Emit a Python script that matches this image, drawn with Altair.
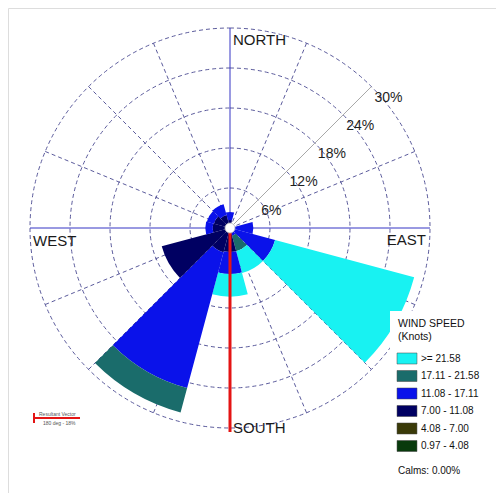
import math
import altair as alt
import pandas as pd

# ---------------- data ----------------
directions = [0, 30, 60, 90, 120, 150, 180, 210, 240, 270, 300, 330]
speed_labels = ["0.97 - 4.08", "4.08 - 7.00", "7.00 - 11.08",
                "11.08 - 17.11", "17.11 - 21.58", ">= 21.58"]
# frequency (%) of each speed class per direction
freq_097_408 = [0, 0, 0, 0, 0, 0, 0, 0, 0, 0, 0, 0]
freq_408_700 = [0, 0, 0, 0, 0, 0, 0, 0, 0, 0, 0, 0]
freq_700_1108 = [1.2, 0.3, 0.3, 0.5, 0.5, 0.5, 3.6, 3.75, 10.6, 2.6, 2.5, 2.0]
freq_1108_1711 = [1.2, 0.0, 0.0, 3.0, 6.5, 0.7, 3.3, 21.1, 0.0, 1.1, 1.1, 1.7]
freq_1711_2158 = [0, 0, 0, 0, 0, 2.4, 0, 3.8, 0, 0, 0, 0]
freq_ge_2158 = [0, 0, 0, 0, 21.6, 3.4, 3.4, 0, 0, 0, 0, 0]

legend_order = [">= 21.58", "17.11 - 21.58", "11.08 - 17.11",
                "7.00 - 11.08", "4.08 - 7.00", "0.97 - 4.08"]
legend_colors = ["#18f2f2", "#1a6c6b", "#0a12ea", "#000062", "#3a3a08", "#083a0c"]

ring_values = [6, 12, 18, 24, 30]
ring_labels = ["6%", "12%", "18%", "24%", "30%"]
grid_angles = [i * 22.5 for i in range(16)]
cardinal_names = ["NORTH", "EAST", "SOUTH", "WEST"]
cardinal_angles = [0, 90, 180, 270]
resultant_dir = [180]
resultant_len = [30.6]
calms_text = ["Calms: 0.00%"]

# ---------------- tables ----------------
class_freqs = [freq_097_408, freq_408_700, freq_700_1108,
               freq_1108_1711, freq_1711_2158, freq_ge_2158]
rows = []
for i, d in enumerate(directions):
    start = 0.0
    for lab, fr in zip(speed_labels, class_freqs):
        v = fr[i]
        if v > 0:
            rows.append(dict(dir=d, cls=lab, r0=start, r1=start + v,
                             t0=d - 15, t1=d + 15))
            start += v
petals = pd.DataFrame(rows)

rings = pd.DataFrame({"r": ring_values, "label": ring_labels})
grid = pd.DataFrame({"a": grid_angles})
grid["kind"] = ["cardinal" if a % 90 == 0 else ("label" if a == 45 else "minor")
                for a in grid_angles]
cards = pd.DataFrame({"name": cardinal_names, "a": cardinal_angles})
vec = pd.DataFrame({"a": resultant_dir, "len": resultant_len})

FONT = "Liberation Sans"
CX, CY = 222, 220
xs = alt.Scale(domain=[-30, 30], range=[CX - 200, CX + 200])
ys = alt.Scale(domain=[-30, 30], range=[CY + 200, CY - 200])
ts = alt.Scale(domain=[0, 360], range=[0, 2 * math.pi])
rs = alt.Scale(type="linear", domain=[0, 30], range=[0, 200])

# ---------------- grid ----------------
circles = alt.Chart(rings).mark_arc(
    fillOpacity=0, stroke="#5b5b9c", strokeWidth=1, strokeDash=[4, 3]
).encode(
    x=alt.value(CX), y=alt.value(CY),
    theta=alt.value(0), theta2=alt.value(6.2832),
    radius=alt.Radius("r:Q", scale=rs, stack=None),
)

radial_base = alt.Chart(grid).transform_calculate(
    x0="0", y0="0",
    x1="30*sin(datum.a*PI/180)", y1="30*cos(datum.a*PI/180)",
)
radial_enc = dict(
    x=alt.X("x0:Q", scale=xs, axis=None),
    y=alt.Y("y0:Q", scale=ys, axis=None),
    x2="x1:Q", y2="y1:Q",
)
minor_lines = radial_base.transform_filter("datum.kind == 'minor'").mark_rule(
    color="#5b5b9c", strokeWidth=1, strokeDash=[4, 3]).encode(**radial_enc)
label_line = radial_base.transform_filter("datum.kind == 'label'").mark_rule(
    color="#a8a8a8", strokeWidth=1).encode(**radial_enc)
card_lines = radial_base.transform_filter("datum.kind == 'cardinal'").mark_rule(
    color="#3434c4", strokeWidth=1).encode(**radial_enc)

# ---------------- petals ----------------
petal_layer = alt.Chart(petals).mark_arc().encode(
    x=alt.value(CX), y=alt.value(CY),
    theta=alt.Theta("t0:Q", scale=ts, stack=None),
    theta2="t1:Q",
    radius=alt.Radius("r1:Q", scale=rs, stack=None),
    radius2="r0:Q",
    color=alt.Color(
        "cls:N",
        scale=alt.Scale(domain=legend_order, range=legend_colors),
        legend=alt.Legend(
            title=["WIND SPEED", "(Knots)"], orient="none",
            legendX=382, legendY=303, fillColor="white", padding=8,
            titleFont=FONT, titleFontSize=10.5, titleFontWeight="normal",
            titleColor="#111111", titleLineHeight=13, titlePadding=7,
            labelFont=FONT, labelFontSize=10, labelColor="#111111",
            labelOffset=5,
            symbolType="M-1.14,-0.63H1.14V0.63H-1.14Z", symbolSize=306,
            symbolStrokeColor="#444444", symbolStrokeWidth=0.5,
            symbolOpacity=1, rowPadding=1.5,
        ),
    ),
)

# ---------------- labels ----------------
pct_labels = alt.Chart(rings).transform_calculate(
    lx="datum.r*0.70711", ly="datum.r*0.70711"
).mark_text(font=FONT, fontSize=14, color="#1e1e1e", align="left",
            baseline="top", dx=3, dy=4).encode(
    x=alt.X("lx:Q", scale=xs, axis=None),
    y=alt.Y("ly:Q", scale=ys, axis=None),
    text="label:N",
)

card_base = alt.Chart(cards).transform_calculate(
    px="30*sin(datum.a*PI/180)", py="30*cos(datum.a*PI/180)"
)
card_enc = dict(x=alt.X("px:Q", scale=xs, axis=None),
                y=alt.Y("py:Q", scale=ys, axis=None), text="name:N")
north = card_base.transform_filter("datum.name == 'NORTH'").mark_text(
    font=FONT, fontSize=15, color="#1a1a1a", align="left",
    baseline="alphabetic", dx=3, dy=17).encode(**card_enc)
east = card_base.transform_filter("datum.name == 'EAST'").mark_text(
    font=FONT, fontSize=15, color="#1a1a1a", align="right",
    baseline="alphabetic", dx=-4, dy=17).encode(**card_enc)
south = card_base.transform_filter("datum.name == 'SOUTH'").mark_text(
    font=FONT, fontSize=15, color="#1a1a1a", align="left",
    baseline="alphabetic", dx=3, dy=5).encode(**card_enc)
west = card_base.transform_filter("datum.name == 'WEST'").mark_text(
    font=FONT, fontSize=15, color="#1a1a1a", align="left",
    baseline="alphabetic", dx=3, dy=18).encode(**card_enc)

# ---------------- resultant vector + centre ----------------
vector = alt.Chart(vec).transform_calculate(
    x0="0", y0="0",
    x1="datum.len*sin(datum.a*PI/180)", y1="datum.len*cos(datum.a*PI/180)",
).mark_rule(color="#e41414", strokeWidth=3).encode(
    x=alt.X("x0:Q", scale=xs, axis=None),
    y=alt.Y("y0:Q", scale=ys, axis=None),
    x2="x1:Q", y2="y1:Q",
)

centre = alt.Chart(pd.DataFrame({"r": [0.75]})).mark_arc(
    fill="white", stroke="#bbbbbb", strokeWidth=0.8
).encode(
    x=alt.value(CX), y=alt.value(CY),
    theta=alt.value(0), theta2=alt.value(6.2832),
    radius=alt.Radius("r:Q", scale=rs, stack=None),
)

calms = alt.Chart(pd.DataFrame({"t": calms_text})).mark_text(
    font=FONT, fontSize=10, color="#111111", align="left", baseline="alphabetic"
).encode(x=alt.value(390), y=alt.value(466), text="t:N")

# small "resultant vector" key, bottom left
key_df = pd.DataFrame({"t1": ["Resultant Vector"], "t2": ["180 deg - 18%"]})
key_line = alt.Chart(key_df).mark_rule(color="#e41414", strokeWidth=2).encode(
    x=alt.value(25), x2=alt.value(72), y=alt.value(410))
key_tick = alt.Chart(key_df).mark_rule(color="#e41414", strokeWidth=2).encode(
    x=alt.value(26), y=alt.value(405), y2=alt.value(415))
key_t1 = alt.Chart(key_df).mark_text(font=FONT, fontSize=5, color="#555555",
                                     align="left").encode(
    x=alt.value(31), y=alt.value(406), text="t1:N")
key_t2 = alt.Chart(key_df).mark_text(font=FONT, fontSize=5, color="#555555",
                                     align="left").encode(
    x=alt.value(35), y=alt.value(415), text="t2:N")

chart = alt.layer(
    circles, minor_lines, label_line, card_lines,
    petal_layer, vector, centre,
    pct_labels, north, east, south, west,
    calms, key_line, key_tick, key_t1, key_t2,
).properties(
    width=488, height=485, padding=0,
    autosize=alt.AutoSizeParams(type="none"),
).configure_view(
    stroke="#555555", strokeWidth=1.5
).configure(background="white")

chart.save("out.html", embed_options={"renderer": "svg", "actions": False})
